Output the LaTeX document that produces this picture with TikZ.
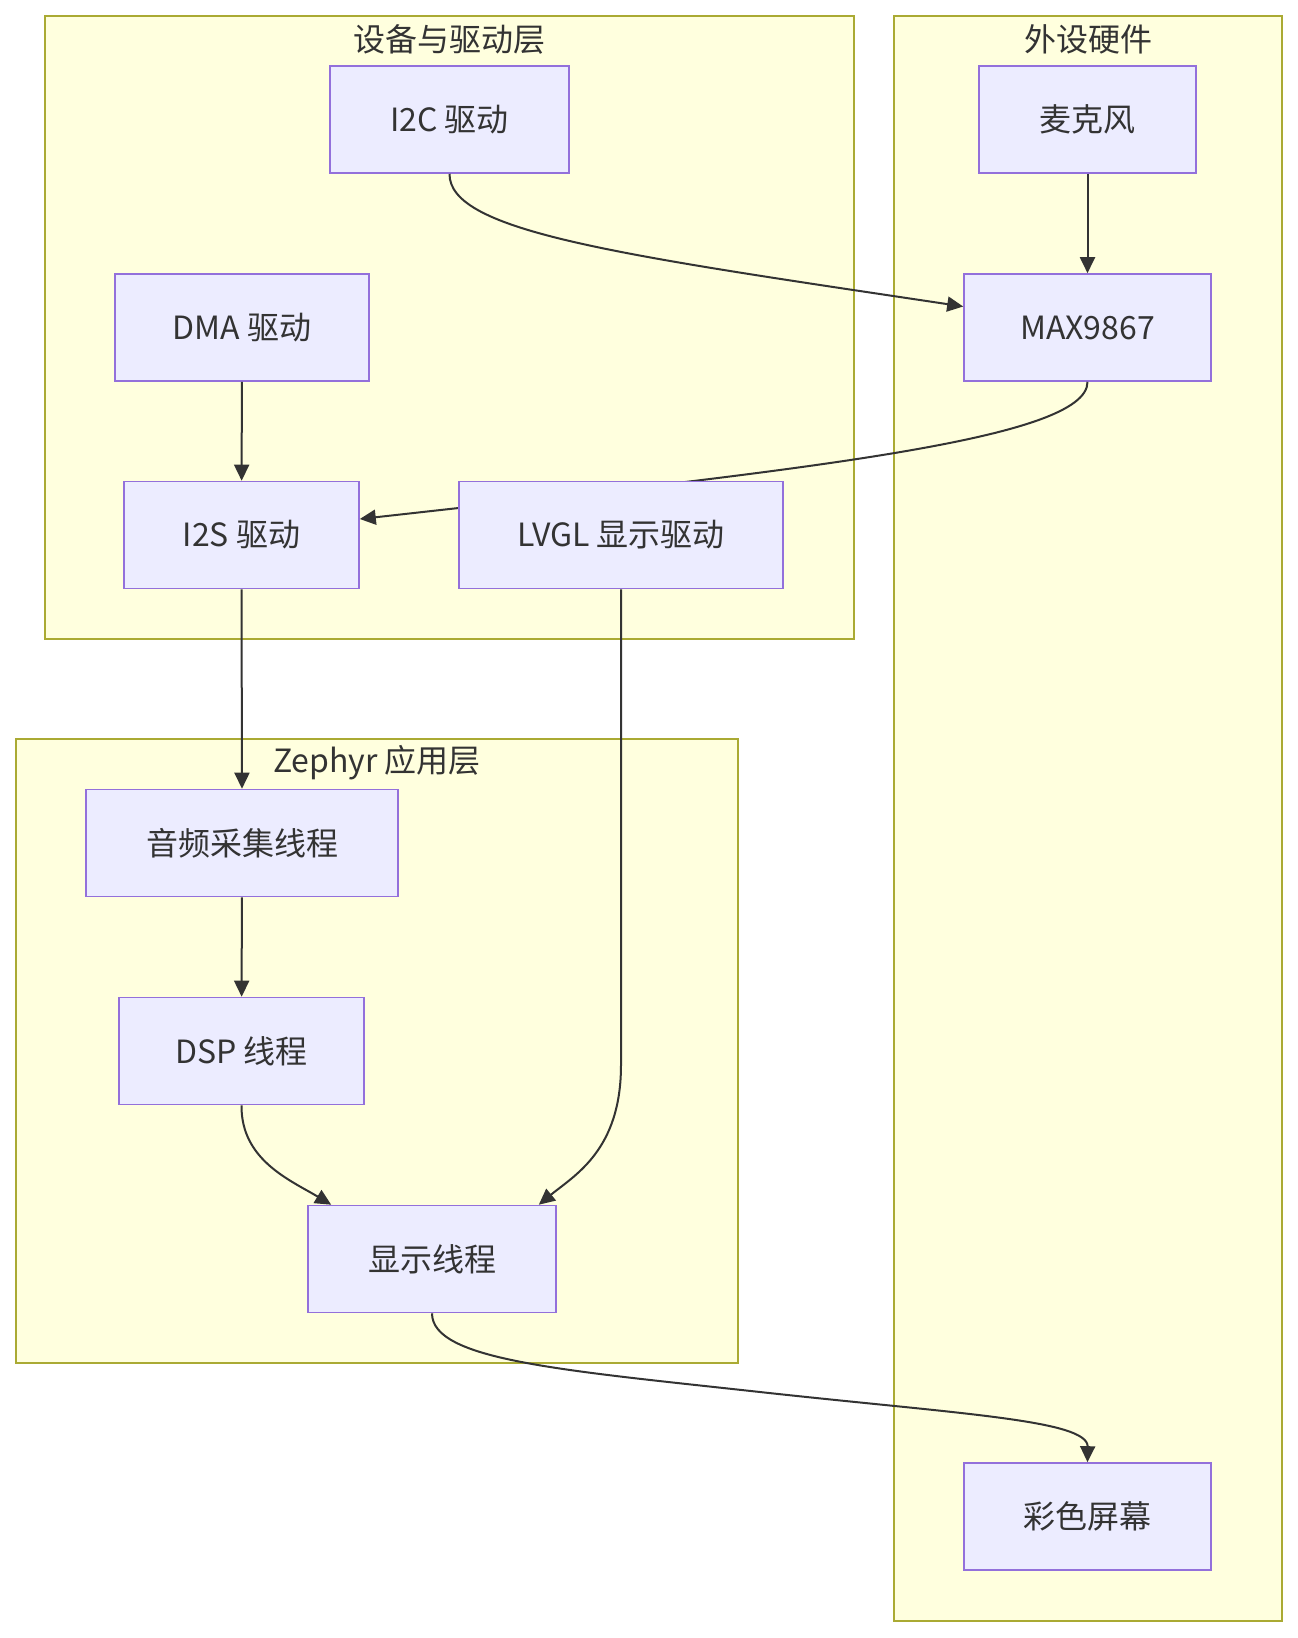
\documentclass[tikz,border=0pt]{standalone}
\usepackage{fontspec}
\setmainfont{Noto Sans CJK SC}
\usetikzlibrary{arrows.meta}
\definecolor{boxfill}{HTML}{ECECFF}
\definecolor{boxline}{HTML}{9370DB}
\definecolor{grpfill}{HTML}{FFFFDE}
\definecolor{grpline}{HTML}{AAAA33}
\definecolor{ink}{HTML}{333333}
\begin{document}
\begin{tikzpicture}[x=1pt,y=-1pt,>={Triangle[length=16pt,width=15pt]},
  font=\fontsize{32}{38}\selectfont,text=ink,
  box/.style={draw=boxline,fill=boxfill,line width=1.6pt,minimum height=107pt,inner sep=0pt},
  group/.style={draw=grpline,fill=grpfill,line width=1.6pt},
  link/.style={->,draw=ink,line width=2pt}]
\useasboundingbox (0,0) rectangle (1298,1638);

% groups
\draw[group] (45,16) rectangle (854,639);
\draw[group] (894,16) rectangle (1282,1621);
\draw[group] (16,739) rectangle (738,1363);
\node (drvtitle) at (449.5,39) {设备与驱动层};
\node (hwtitle) at (1088,39) {外设硬件};
\node (apptitle) at (377,763) {Zephyr 应用层};

\node[box,minimum width=239pt] (i2c) at (449.5,119.5) {I2C 驱动};
\node[box,minimum width=217pt] (mic) at (1087.5,119.5) {麦克风};
\node[box,minimum width=254pt] (dma) at (242,327.5) {DMA 驱动};
\node[box,minimum width=247pt] (max) at (1087.5,327.5) {MAX9867};
\node[box,minimum width=235pt] (i2s) at (241.5,535) {I2S 驱动};
\node[box,minimum width=312pt] (capture) at (242,843) {音频采集线程};
\node[box,minimum width=245pt] (dsp) at (241.5,1051) {DSP 线程};
\node[box,minimum width=248pt] (show) at (432,1259) {显示线程};
\node[box,minimum width=247pt] (screen) at (1087.5,1516.5) {彩色屏幕};

% codec to I2S runs under the LVGL box
\draw[link] (max.south) .. controls (1088,440) and (800,470) .. ([yshift=16pt]i2s.east);
\node[box,minimum width=324pt] (lvgl) at (621,535) {LVGL 显示驱动};

\draw[link] (mic) -- (max);
\draw[link] (dma) -- (i2s);
\draw[link] (i2c.south) .. controls (449,232) and (620,255) .. ([yshift=21pt]max.west);
\draw[link] (i2s.south) -- (capture.north);
\draw[link] (capture) -- (dsp);
\draw[link] (dsp.south) .. controls (241,1160) and (290,1180) .. ([xshift=24pt]show.north west);
\draw[link] (lvgl.south) -- (621,1065) .. controls (621,1150) and (575,1175) .. ([xshift=-18pt]show.north east);
\draw[link] (show.south) .. controls (432,1360) and (560,1370) .. (760,1392)
  .. controls (960,1414) and (1088,1420) .. (screen.north);
\end{tikzpicture}
\end{document}
